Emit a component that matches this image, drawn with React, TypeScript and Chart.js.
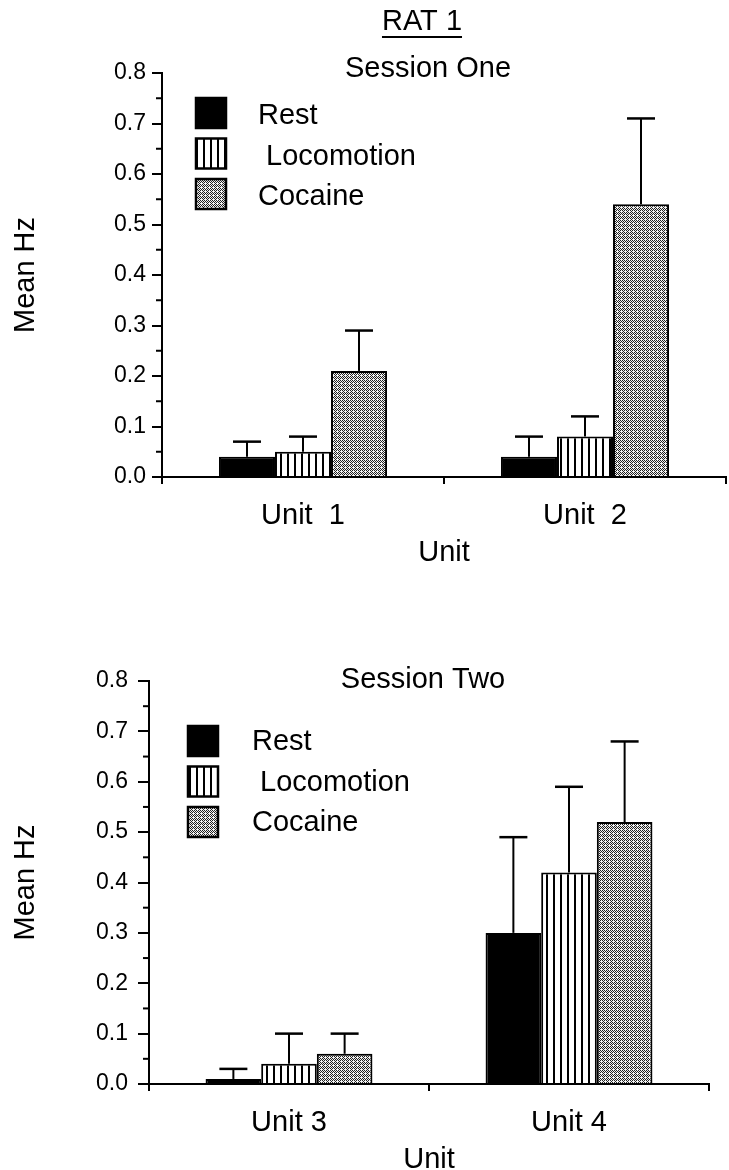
import { useEffect, useRef } from 'react';
import { Chart, registerables } from 'chart.js';

Chart.register(...registerables);

const FONT = '"Liberation Sans", Arial, Helvetica, sans-serif';

// Condition names, one bar per condition in every unit group
const SERIES = ['Rest', ' Locomotion', 'Cocaine'];

// Session one: mean firing rate (Hz) and error (SEM) per unit
const SESSION_ONE_UNITS = ['Unit  1', 'Unit  2'];
const SESSION_ONE_REST = [0.04, 0.04];
const SESSION_ONE_REST_SEM = [0.03, 0.04];
const SESSION_ONE_LOCO = [0.05, 0.08];
const SESSION_ONE_LOCO_SEM = [0.03, 0.04];
const SESSION_ONE_COCAINE = [0.21, 0.54];
const SESSION_ONE_COCAINE_SEM = [0.08, 0.17];

// Session two
const SESSION_TWO_UNITS = ['Unit 3', 'Unit 4'];
const SESSION_TWO_REST = [0.01, 0.30];
const SESSION_TWO_REST_SEM = [0.02, 0.19];
const SESSION_TWO_LOCO = [0.04, 0.42];
const SESSION_TWO_LOCO_SEM = [0.06, 0.17];
const SESSION_TWO_COCAINE = [0.06, 0.52];
const SESSION_TWO_COCAINE_SEM = [0.04, 0.16];

const Y_MAX = 0.8;
const Y_STEP = 0.1;

function stripePattern(): CanvasPattern {
  const c = document.createElement('canvas');
  c.width = 7;
  c.height = 8;
  const g = c.getContext('2d')!;
  g.fillStyle = '#fff';
  g.fillRect(0, 0, 7, 8);
  g.fillStyle = '#000';
  g.fillRect(0, 0, 2, 8);
  return g.createPattern(c, 'repeat')!;
}

function stipplePattern(): CanvasPattern {
  const bayer = [
    [0, 8, 2, 10],
    [12, 4, 14, 6],
    [3, 11, 1, 9],
    [15, 7, 13, 5],
  ];
  const c = document.createElement('canvas');
  c.width = 4;
  c.height = 4;
  const g = c.getContext('2d')!;
  g.fillStyle = '#f2f2f2';
  g.fillRect(0, 0, 4, 4);
  g.fillStyle = '#222';
  for (let r = 0; r < 4; r++) {
    for (let col = 0; col < 4; col++) {
      if (bayer[r][col] < 7) g.fillRect(col, r, 1, 1);
    }
  }
  return g.createPattern(c, 'repeat')!;
}

// Error bars (upper whisker only), minor y ticks, in-plot legend and titles
const decorations = {
  id: 'decorations',
  afterDatasetsDraw(chart: any) {
    const { ctx } = chart;
    const yScale = chart.scales.y;
    ctx.save();
    ctx.strokeStyle = '#000';
    chart.data.datasets.forEach((ds: any, i: number) => {
      const meta = chart.getDatasetMeta(i);
      meta.data.forEach((bar: any, j: number) => {
        const top = yScale.getPixelForValue(ds.data[j] + ds.sem[j]);
        ctx.lineWidth = 2;
        ctx.beginPath();
        ctx.moveTo(bar.x, bar.y);
        ctx.lineTo(bar.x, top);
        ctx.stroke();
        ctx.lineWidth = 2.5;
        ctx.beginPath();
        ctx.moveTo(bar.x - 14, top);
        ctx.lineTo(bar.x + 14, top);
        ctx.stroke();
      });
    });
    ctx.restore();
  },
  afterDraw(chart: any, _args: any, opts: any) {
    const { ctx, chartArea } = chart;
    const yScale = chart.scales.y;
    ctx.save();
    ctx.strokeStyle = '#000';
    ctx.fillStyle = '#000';

    // minor ticks halfway between the labelled ones
    ctx.lineWidth = 2;
    const ticks = yScale.ticks;
    for (let k = 0; k < ticks.length - 1; k++) {
      const py = yScale.getPixelForValue((ticks[k].value + ticks[k + 1].value) / 2);
      ctx.beginPath();
      ctx.moveTo(chartArea.left - opts.minorTick, py);
      ctx.lineTo(chartArea.left, py);
      ctx.stroke();
    }

    // legend
    const L = opts.legend;
    ctx.font = `29px ${FONT}`;
    ctx.textBaseline = 'middle';
    ctx.textAlign = 'left';
    chart.data.datasets.forEach((ds: any, i: number) => {
      const bx = chartArea.left + L.boxX;
      const by = chartArea.top + L.boxTop + i * L.rowGap;
      ctx.fillStyle = ds.backgroundColor;
      ctx.fillRect(bx, by, 30, 30);
      ctx.lineWidth = 2.5;
      ctx.strokeRect(bx, by, 30, 30);
      ctx.fillStyle = '#000';
      ctx.fillText(ds.label, chartArea.left + L.textX, by + 15 + L.textDy);
    });

    // titles
    ctx.textAlign = 'center';
    opts.titles.forEach((t: any) => {
      ctx.fillText(t.text, t.x, t.y);
      if (t.underline) {
        const w = ctx.measureText(t.text).width;
        ctx.lineWidth = 2;
        ctx.beginPath();
        ctx.moveTo(t.x - w / 2, t.y + 15);
        ctx.lineTo(t.x + w / 2, t.y + 15);
        ctx.stroke();
      }
    });
    ctx.restore();
  },
};

function buildConfig(p: any): any {
  const stripes = stripePattern();
  const stipple = stipplePattern();
  const barCommon = {
    borderColor: '#000',
    borderWidth: 2,
    categoryPercentage: 0.596,
    barPercentage: 1,
  };
  return {
    type: 'bar',
    data: {
      labels: p.units,
      datasets: [
        { ...barCommon, label: SERIES[0], data: p.rest, sem: p.restSem, backgroundColor: '#000' },
        { ...barCommon, label: SERIES[1], data: p.loco, sem: p.locoSem, backgroundColor: stripes },
        { ...barCommon, label: SERIES[2], data: p.cocaine, sem: p.cocaineSem, backgroundColor: stipple },
      ],
    },
    plugins: [decorations],
    options: {
      animation: false,
      responsive: false,
      layout: { padding: { left: 0, right: p.padRight, top: p.padTop, bottom: 0 } },
      plugins: {
        legend: { display: false },
        tooltip: { enabled: false },
        decorations: {
          minorTick: 6,
          legend: p.legend,
          titles: p.titles,
        },
      },
      scales: {
        x: {
          type: 'category',
          offset: true,
          grid: {
            display: true,
            offset: true,
            drawOnChartArea: false,
            drawTicks: true,
            tickLength: 7,
            color: '#000',
            lineWidth: 2,
          },
          border: { display: true, color: '#000', width: 2 },
          ticks: {
            color: '#000',
            font: { family: FONT, size: 29 },
            padding: 15,
            maxRotation: 0,
            autoSkip: false,
          },
          title: {
            display: true,
            text: 'Unit',
            color: '#000',
            font: { family: FONT, size: 29, lineHeight: 1.2 },
            padding: { top: 0, bottom: p.xTitlePad },
          },
          afterFit: (s: any) => {
            s.height = p.xHeight;
          },
        },
        y: {
          min: 0,
          max: Y_MAX,
          grid: {
            drawOnChartArea: false,
            drawTicks: true,
            tickLength: p.yTickLen,
            color: '#000',
            lineWidth: 2,
          },
          border: { display: true, color: '#000', width: 2 },
          ticks: {
            stepSize: Y_STEP,
            color: '#000',
            font: { family: FONT, size: 23 },
            padding: p.yTickPad,
            callback: (v: any) => Number(v).toFixed(1),
          },
          title: {
            display: true,
            text: 'Mean Hz',
            color: '#000',
            font: { family: FONT, size: 29, lineHeight: 1.2 },
            padding: { top: 9, bottom: 0 },
          },
          afterFit: (s: any) => {
            s.width = p.yWidth;
          },
        },
      },
    },
  };
}

export default function App() {
  const topRef = useRef<HTMLCanvasElement>(null);
  const bottomRef = useRef<HTMLCanvasElement>(null);

  useEffect(() => {
    const top = new Chart(
      topRef.current!,
      buildConfig({
        units: SESSION_ONE_UNITS,
        rest: SESSION_ONE_REST,
        restSem: SESSION_ONE_REST_SEM,
        loco: SESSION_ONE_LOCO,
        locoSem: SESSION_ONE_LOCO_SEM,
        cocaine: SESSION_ONE_COCAINE,
        cocaineSem: SESSION_ONE_COCAINE_SEM,
        padTop: 73,
        padRight: 3,
        yWidth: 162,
        xHeight: 113,
        xTitlePad: 20,
        yTickLen: 10,
        yTickPad: 6,
        legend: { boxX: 34, boxTop: 25, rowGap: 40.5, textX: 96, textDy: 3 },
        titles: [
          { text: 'RAT 1', x: 422, y: 22, underline: true },
          { text: 'Session One', x: 428, y: 69 },
        ],
      })
    );
    const bottom = new Chart(
      bottomRef.current!,
      buildConfig({
        units: SESSION_TWO_UNITS,
        rest: SESSION_TWO_REST,
        restSem: SESSION_TWO_REST_SEM,
        loco: SESSION_TWO_LOCO,
        locoSem: SESSION_TWO_LOCO_SEM,
        cocaine: SESSION_TWO_COCAINE,
        cocaineSem: SESSION_TWO_COCAINE_SEM,
        padTop: 91,
        padRight: 20,
        yWidth: 149,
        xHeight: 106,
        xTitlePad: 13,
        yTickLen: 11,
        yTickPad: 10,
        legend: { boxX: 39, boxTop: 45, rowGap: 40.5, textX: 103, textDy: 1 },
        titles: [{ text: 'Session Two', x: 423, y: 90 }],
      })
    );
    return () => {
      top.destroy();
      bottom.destroy();
    };
  }, []);

  return (
    <div
      style={{
        position: 'absolute',
        left: 0,
        top: 0,
        width: 729,
        height: 1170,
        overflow: 'hidden',
        background: '#fff',
      }}
    >
      <canvas ref={topRef} width={729} height={590} style={{ position: 'absolute', left: 0, top: 0 }} />
      <canvas ref={bottomRef} width={729} height={600} style={{ position: 'absolute', left: 0, top: 590 }} />
    </div>
  );
}
